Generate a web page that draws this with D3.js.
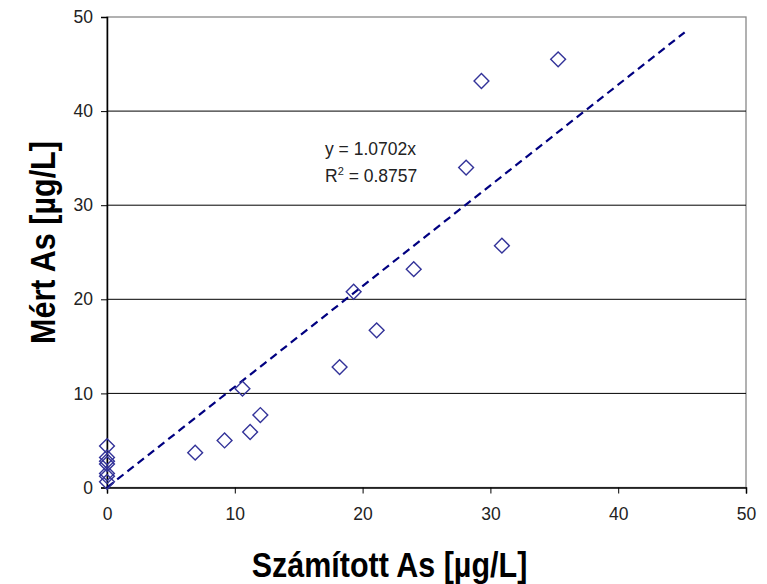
<!DOCTYPE html>
<html>
<head>
<meta charset="utf-8">
<script src="https://cdn.jsdelivr.net/npm/d3@7"></script>
<style>
  body { margin: 0; background: #fff; }
  svg { display: block; font-family: "Liberation Sans", Arial, sans-serif; }
</style>
</head>
<body>
<svg id="chart" width="767" height="584"></svg>
<script>
// Calculated vs. measured arsenic concentrations
const calculated = [0, 0, 0, 0, 0, 0, 0, 6.9, 9.2, 10.6, 11.2, 12.0, 18.2, 19.3, 21.1, 24.0, 28.1, 29.3, 30.9, 35.3];
const measured   = [4.4, 3.2, 2.8, 2.5, 1.5, 1.2, 0.6, 3.7, 5.0, 10.5, 5.9, 7.7, 12.8, 20.8, 16.7, 23.2, 34.0, 43.2, 25.7, 45.5];
const slope = 1.0702;
const rSquared = 0.8757;
const trendEnd = 45.2;
const xTicks = [0, 10, 20, 30, 40, 50];
const yTicks = [0, 10, 20, 30, 40, 50];

const svg = d3.select("#chart");
const plot = { left: 107, right: 746, top: 17, bottom: 487.5 };

const x = d3.scaleLinear().domain([0, 50]).range([plot.left, plot.right]);
const y = d3.scaleLinear().domain([0, 50]).range([plot.bottom, plot.top]);

// Plot area frame (top and right edges in grey)
svg.append("rect")
  .attr("x", plot.left).attr("y", plot.top)
  .attr("width", plot.right - plot.left).attr("height", plot.bottom - plot.top)
  .attr("fill", "none").attr("stroke", "#888").attr("stroke-width", 1.3);

// Horizontal gridlines
svg.append("g").selectAll("line")
  .data(yTicks.filter(d => d > 0 && d < 50))
  .join("line")
  .attr("x1", plot.left).attr("x2", plot.right)
  .attr("y1", d => y(d)).attr("y2", d => y(d))
  .attr("stroke", "#000").attr("stroke-width", 1);

// Axes
const xAxis = svg.append("g")
  .attr("transform", `translate(0,${plot.bottom})`)
  .call(d3.axisBottom(x).tickValues(xTicks).tickSize(6).tickPadding(14));
const yAxis = svg.append("g")
  .attr("transform", `translate(${plot.left},0)`)
  .call(d3.axisLeft(y).tickValues(yTicks).tickSize(6).tickPadding(8));

[xAxis, yAxis].forEach(g => {
  g.select(".domain").attr("stroke", "#000").attr("stroke-width", 1.5);
  g.selectAll(".tick line").attr("stroke", "#000").attr("stroke-width", 1);
  g.selectAll(".tick text")
    .attr("fill", "#222")
    .style("font-family", "'Liberation Sans', Arial, sans-serif")
    .style("font-size", "17.5px");
});

// Linear trendline through the origin
svg.append("line")
  .attr("x1", x(0)).attr("y1", y(0))
  .attr("x2", x(trendEnd)).attr("y2", y(slope * trendEnd))
  .attr("stroke", "#000080").attr("stroke-width", 2.2)
  .attr("stroke-dasharray", "8,5");

// Data points as open diamonds
const diamond = d3.symbol().type(d3.symbolSquare).size(110);
svg.append("g").selectAll("path")
  .data(calculated.map((c, i) => [c, measured[i]]))
  .join("path")
  .attr("d", diamond)
  .attr("transform", d => `translate(${x(d[0])},${y(d[1])}) rotate(45)`)
  .attr("fill", "none").attr("stroke", "#333399").attr("stroke-width", 1.4);

// Regression equation
const eq = svg.append("g").attr("fill", "#222").style("font-size", "17.5px");
eq.append("text").attr("x", 325).attr("y", 155).text(`y = ${slope}x`);
const r2 = eq.append("text").attr("x", 325).attr("y", 181.5);
r2.append("tspan").text("R");
r2.append("tspan").attr("dy", -7).style("font-size", "11px").text("2");
r2.append("tspan").attr("dy", 7).text(` = ${rSquared}`);

// Axis titles (bold, slightly tall lettering)
svg.append("text")
  .attr("transform", "translate(389.5,577) scale(1,1.15)")
  .attr("text-anchor", "middle")
  .style("font-size", "30.5px").style("font-weight", "bold")
  .text("Számított As [µg/L]");
svg.append("text")
  .attr("transform", "translate(55,242.5) rotate(-90) scale(1,1.15)")
  .attr("text-anchor", "middle")
  .style("font-size", "30.5px").style("font-weight", "bold")
  .text("Mért As [µg/L]");
</script>
</body>
</html>
